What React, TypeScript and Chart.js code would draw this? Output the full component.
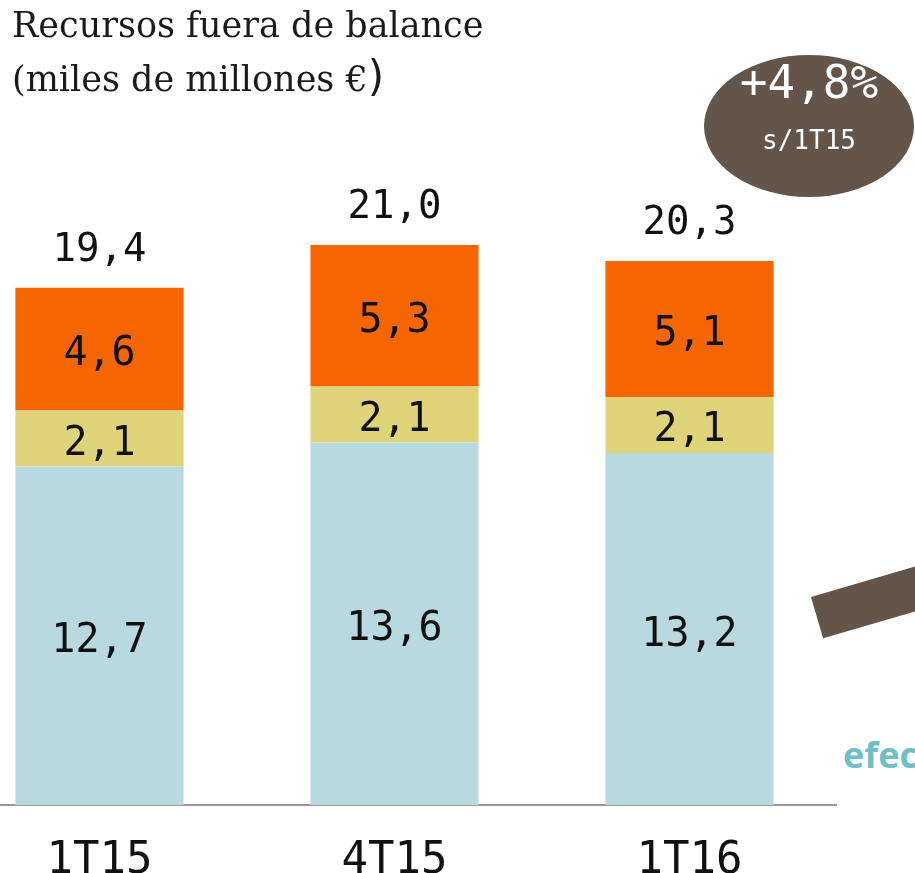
import React, { useEffect, useRef } from "react";
import { Chart, registerables } from "chart.js";

Chart.register(...registerables);

const categories = ["1T15", "4T15", "1T16"];
const baseValues = [12.7, 13.6, 13.2];
const midValues = [2.1, 2.1, 2.1];
const topValues = [4.6, 5.3, 5.1];
const totals = [19.4, 21.0, 20.3];

const fmt = (v: number) => v.toFixed(1).replace(".", ",");

const labelPlugin = {
  id: "segLabels",
  afterDatasetsDraw(chart: any) {
    const ctx = chart.ctx;
    ctx.save();
    ctx.fillStyle = "#111111";
    ctx.textAlign = "center";
    ctx.textBaseline = "middle";
    ctx.font = "40px 'DejaVu Sans Mono'";
    chart.data.datasets.forEach((ds: any, di: number) => {
      const meta = chart.getDatasetMeta(di);
      meta.data.forEach((bar: any, i: number) => {
        const y = (bar.y + bar.base) / 2 + 6;
        ctx.fillText(fmt(ds.data[i]), bar.x, y);
      });
    });
    const lastMeta = chart.getDatasetMeta(chart.data.datasets.length - 1);
    ctx.font = "39px 'DejaVu Sans Mono'";
    lastMeta.data.forEach((bar: any, i: number) => {
      ctx.fillText(fmt(totals[i]), bar.x, bar.y - 37);
    });
    ctx.restore();
  },
};

function BarChart() {
  const ref = useRef<HTMLCanvasElement | null>(null);
  useEffect(() => {
    if (!ref.current) return;
    const chart = new Chart(ref.current, {
      type: "bar",
      data: {
        labels: categories,
        datasets: [
          { label: "A", data: baseValues, backgroundColor: "#b7d9df" },
          { label: "B", data: midValues, backgroundColor: "#e0d47a" },
          { label: "C", data: topValues, backgroundColor: "#f56600" },
        ],
      },
      options: {
        responsive: false,
        animation: false,
        devicePixelRatio: 1,
        layout: { padding: { top: 5, left: 0, right: 0, bottom: 0 } },
        datasets: { bar: { categoryPercentage: 1, barPercentage: 0.57 } },
        plugins: { legend: { display: false }, tooltip: { enabled: false }, title: { display: false } },
        scales: {
          x: {
            stacked: true,
            grid: { display: false, drawTicks: false },
            border: { display: true, color: "#999999", width: 2 },
            ticks: {
              color: "#111111",
              padding: 30,
              font: { family: "'DejaVu Sans Mono'", size: 44 },
            },
          },
          y: {
            stacked: true,
            display: false,
            min: 0,
            max: 30,
          },
        },
      },
      plugins: [labelPlugin],
    });
    return () => chart.destroy();
  }, []);
  return (
    <canvas
      ref={ref}
      width={885}
      height={918}
      style={{ position: "absolute", left: -48, top: 0, width: 885, height: 918 }}
    />
  );
}

export default function App() {
  return (
    <div
      style={{
        position: "absolute",
        left: 0,
        top: 0,
        width: 915,
        height: 873,
        overflow: "hidden",
        background: "#ffffff",
      }}
    >
      <BarChart />
      <div
        style={{
          position: "absolute",
          left: 12,
          top: 0,
          fontFamily: "'DejaVu Serif'",
          fontSize: 35,
          lineHeight: "51px",
          color: "#1a1a1a",
          whiteSpace: "nowrap",
        }}
      >
        <div>Recursos fuera de balance</div>
        <div>
          (miles de millones €<span style={{ fontSize: 42, fontFamily: "'DejaVu Sans'" }}>)</span>
        </div>
      </div>
      <div
        style={{
          position: "absolute",
          left: 704,
          top: 55,
          width: 210,
          height: 142,
          borderRadius: "50%",
          background: "#635549",
          color: "#ffffff",
          textAlign: "center",
        }}
      >
        <div
          style={{
            position: "absolute",
            left: 0,
            right: 0,
            top: 2,
            fontFamily: "'DejaVu Sans Mono'",
            fontSize: 46,
            lineHeight: "50px",
          }}
        >
          +4,8%
        </div>
        <div
          style={{
            position: "absolute",
            left: 0,
            right: 0,
            top: 70,
            fontFamily: "'DejaVu Sans Mono'",
            fontSize: 26,
            lineHeight: "30px",
          }}
        >
          s/1T15
        </div>
      </div>
      <div
        style={{
          position: "absolute",
          left: 811,
          top: 597,
          width: 220,
          height: 43,
          background: "#635549",
          transformOrigin: "0 0",
          transform: "rotate(-16.3deg)",
        }}
      />
      <div
        style={{
          position: "absolute",
          left: 843,
          top: 730,
          fontFamily: "'Open Sans'",
          fontWeight: 700,
          fontSize: 36,
          lineHeight: "50px",
          color: "#6fbfc6",
          whiteSpace: "nowrap",
        }}
      >
        efecto
      </div>
    </div>
  );
}
